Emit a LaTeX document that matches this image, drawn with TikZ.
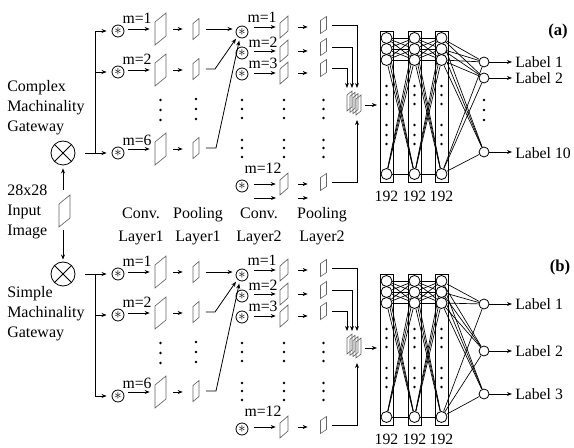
\documentclass[tikz,border=0pt]{standalone}
\usepackage{fontspec}
\setmainfont{Liberation Serif}
\usetikzlibrary{arrows.meta,calc}
\pgfdeclarelayer{back}
\pgfdeclarelayer{bg}
\pgfsetlayers{back,bg,main}

\tikzset{
  conn/.style={line width=0.6pt},
  arr/.style={line width=0.6pt, -{Stealth[length=3.8pt,width=3pt]}},
  fmapline/.style={draw=black!60, line width=0.5pt},
  starnode/.style={circle, draw, line width=0.6pt, minimum size=9pt, inner sep=0pt, font=\fontsize{11}{11}\selectfont},
  otimesnode/.style={circle, draw, line width=0.6pt, minimum size=18pt, inner sep=0pt,
    path picture={\draw[line width=0.6pt] (path picture bounding box.north west) -- (path picture bounding box.south east)
                 (path picture bounding box.north east) -- (path picture bounding box.south west);}},
  neuron/.style={circle, draw, line width=0.6pt, minimum size=8.25pt, inner sep=0pt, fill=white},
  outneuron/.style={circle, draw, line width=0.6pt, minimum size=7.5pt, inner sep=0pt, fill=white},
  fcbox/.style={draw, line width=0.6pt, minimum width=9.75pt, minimum height=113.25pt, inner sep=0pt},
  fcl/.style={line width=0.5pt},
  lbl/.style={font=\fontsize{11.8}{13}\selectfont, inner sep=0pt},
  bigtxt/.style={font=\fontsize{12}{15}\selectfont, inner sep=0pt, align=left},
  laytxt/.style={font=\fontsize{12}{17.25}\selectfont, inner sep=0pt, align=center},
}

\newcommand\featmap[6]{%
  \node[inner sep=0pt, minimum width={#4*0.75pt}, minimum height={#5*0.75pt}] (#1) at (#2,#3) {};
  \draw[fmapline] ({#2-#4/2},{#3+#5/2}) -- ({#2-#4/2},{#3-#5/2+#6}) -- ({#2+#4/2},{#3-#5/2}) -- ({#2+#4/2},{#3+#5/2-#6}) -- cycle;}

\newcommand\panelcommon[2]{%
\begin{scope}[shift={(0,#2)}]
  % conv layer 1
  \node[starnode] (s1#1) at (118,31) {$\ast$};
  \node[starnode] (s2#1) at (118,72) {$\ast$};
  \node[starnode] (s6#1) at (118,153) {$\ast$};
  \node[lbl] (ma1#1) at (137,18) {m=1};
  \node[lbl] (ma2#1) at (137,59) {m=2};
  \node[lbl] (ma6#1) at (137,140) {m=6};
  \featmap{c1#1}{160.5}{29}{11}{32}{9}
  \featmap{c2#1}{160.5}{70}{11}{32}{9}
  \featmap{c6#1}{160.5}{149}{11}{32}{9}
  \foreach \k in {1,2,6} {
    \draw[arr, shorten <=3pt, shorten >=3.75pt] (s\k#1.east |- c\k#1) -- (c\k#1.west);
  }
  % pooling layer 1
  \featmap{p1#1}{196}{29}{6}{21}{5}
  \featmap{p2#1}{196}{69}{6}{21}{5}
  \featmap{p6#1}{196}{148}{6}{21}{5}
  \foreach \k in {1,2,6} {
    \draw[arr, shorten <=5.25pt, shorten >=7.5pt] (c\k#1.east) -- (p\k#1.west |- c\k#1.east);
  }
  \foreach \yy in {100,110,120} { \fill (160.5,\yy) circle[radius=1.3]; }
  \foreach \yy in {99,109,119} { \fill (196,\yy) circle[radius=1.3]; }
  % conv layer 2
  \node[starnode] (t1#1) at (242,32) {$\ast$};
  \node[starnode] (t2#1) at (242,53) {$\ast$};
  \node[starnode] (t3#1) at (242,74) {$\ast$};
  \node[starnode] (t12#1) at (242,186) {$\ast$};
  \node[lbl] (mb1#1) at (262,17) {m=1};
  \node[lbl] (mb2#1) at (263,42) {m=2};
  \node[lbl] (mb3#1) at (263,63) {m=3};
  \node[lbl] (mb12#1) at (263,168) {m=12};
  \draw[arr, shorten <=5pt, shorten >=2.25pt] (p1#1.east) -- (t1#1.west |- p1#1.east);
  \coordinate (k2#1) at (215,69);
  \coordinate (k6#1) at (216,148);
  \draw[arr, shorten <=5pt, shorten >=2pt] (p2#1.east) -- (k2#1) -- (t1#1.225);
  \draw[arr, shorten <=5pt, shorten >=2pt] (p6#1.east) -- (k6#1) -- (t1#1.250);
  \featmap{d1#1}{284}{27}{8}{22}{7}
  \featmap{d2#1}{284}{51}{8}{22}{7}
  \featmap{d3#1}{284}{73}{8}{22}{7}
  \featmap{d12#1}{284}{184}{8}{22}{7}
  \foreach \k in {1,2,3,12} {
    \draw[arr, shorten <=4.5pt, shorten >=3pt] (t\k#1.east |- d\k#1) -- (d\k#1.west);
  }
  % pooling layer 2
  \featmap{q1#1}{323.5}{25}{6}{17}{4}
  \featmap{q2#1}{323.5}{47}{6}{17}{4}
  \featmap{q3#1}{323.5}{68}{6}{17}{4}
  \featmap{q12#1}{323.5}{182}{6}{17}{4}
  \foreach \k in {1,2,3,12} {
    \draw[arr, shorten <=7.5pt, shorten >=9.4pt] (d\k#1.east) -- (q\k#1.west |- d\k#1.east);
  }
  \foreach \xx in {242,284,323.5} {
    \foreach \yy in {100,109,118,140,148,157} { \fill (\xx,\yy) circle[radius=1.3]; }
  }
  % stack of maps
  \featmap{z1#1}{349.5}{101}{5}{20}{4}
  \featmap{z2#1}{352.5}{102.3}{5}{20}{4}
  \featmap{z3#1}{355.5}{103.6}{5}{20}{4}
  \featmap{z4#1}{358.5}{105}{5}{20}{4}
  \coordinate (e1#1) at (357,88);
  \coordinate (e2#1) at (352,88);
  \coordinate (e3#1) at (347,88);
  \coordinate (e12#1) at (357,120);
  \draw[arr, shorten <=4pt] (q1#1.east) -| (e1#1);
  \draw[arr, shorten <=4pt] (q2#1.east) -| (e2#1);
  \draw[arr, shorten <=4pt] (q3#1.east) -| (e3#1);
  \draw[arr, shorten <=4pt] (q12#1.east) -| (e12#1);
  % fully connected
  \foreach \l/\xx in {1/386.5,2/414.5,3/441.5} {
    \node[fcbox] (R\l#1) at (\xx,106.5) {};
    \foreach \k/\yy in {1/38,2/49,3/60,4/174} { \node[neuron] (n#1\l\k) at (\xx,\yy) {}; }
    \foreach \yy in {86,95,104,125,135,144} { \fill (\xx,\yy) circle[radius=1.3]; }
    \node[lbl] (num\l#1) at (\xx,196) {192};
  }
  \draw[arr, shorten <=3pt, shorten >=2pt] (z4#1.east) -- (R1#1.west |- z4#1.east);
  \begin{pgfonlayer}{bg}
    \foreach \i in {1,2,3,4} { \foreach \j in {1,2,3,4} {
      \draw[fcl] (n#11\i) -- (n#12\j);
      \draw[fcl] (n#12\i) -- (n#13\j);
    } }
  \end{pgfonlayer}
\end{scope}}

\begin{document}
\begin{tikzpicture}[x=0.75pt,y=-0.75pt]
\begin{pgfonlayer}{back}
  \fill[white] (0,0) rectangle (574,448);
\end{pgfonlayer}
\useasboundingbox (0,0) rectangle (574,448);

% ---------- input and gateways ----------
\node[otimesnode] (gA) at (63,153) {};
\node[otimesnode] (gB) at (63,274) {};
\featmap{inp}{64.5}{211}{11}{32}{9}
\draw[arr, shorten <=3.75pt, shorten >=2.25pt] (gA.south |- inp.north) -- (gA.south);
\draw[arr, shorten <=2.25pt, shorten >=1.5pt] (gB.north |- inp.south) -- (gB.north);
\node[bigtxt, anchor=west] (txtA) at (7,108) {Complex\\Machinality\\Gateway};
\node[bigtxt, anchor=west] (txtB) at (7,314) {Simple\\Machinality\\Gateway};
\node[bigtxt, anchor=west] (txtI) at (7,212) {28x28\\Input\\Image};

% layer names
\node[laytxt] (ln1) at (141,226) {Conv.\\Layer1};
\node[laytxt] (ln2) at (198,226) {Pooling\\Layer1};
\node[laytxt] (ln3) at (259,226) {Conv.\\Layer2};
\node[laytxt] (ln4) at (322,226) {Pooling\\Layer2};

\panelcommon{a}{0}
\panelcommon{b}{243}

% ---------- panel (a) specific ----------
\coordinate (jA) at (95,153);
\coordinate (jA1) at (95,31);
\draw[arr, shorten <=7.5pt, shorten >=3.75pt] (gA) -- (s6a);
\draw[conn] (jA) -- (jA1);
\draw[arr, shorten >=3.75pt] (jA1) -- (s1a);
\draw[arr, shorten >=3.75pt] (jA1 |- s2a) -- (s2a);
\coordinate (xa1) at (254,198);
\coordinate (xa2) at (276,198);
\coordinate (xa3) at (298,198);
\coordinate (xa4) at (308,198);
\draw[arr] (xa1) -- (xa2);
\draw[arr] (xa3) -- (xa4);

\node[outneuron] (o1a) at (484,62) {};
\node[outneuron] (o2a) at (484,78) {};
\node[outneuron] (o3a) at (484,152) {};
\foreach \yy in {100,110,120} { \fill (484,\yy) circle[radius=1.3]; }
\begin{pgfonlayer}{bg}
  \foreach \i in {1,2,3,4} { \foreach \j in {1,2,3} { \draw[fcl] (na3\i) -- (o\j a); } }
\end{pgfonlayer}
\node[lbl, anchor=west] (la1) at (515,62) {Label 1};
\node[lbl, anchor=west] (la2) at (515,78) {Label 2};
\node[lbl, anchor=west] (la3) at (515,153) {Label 10};
\draw[arr, shorten >=2.25pt] (o1a) -- (la1);
\draw[arr, shorten >=2.25pt] (o2a) -- (la2);
\draw[arr, shorten >=2.25pt] (o3a) -- (la3.west |- o3a);
\node[font=\fontsize{12.5}{14}\selectfont\bfseries, inner sep=0pt] (tagA) at (558,31) {(a)};

% ---------- panel (b) specific ----------
\coordinate (jB1) at (95,274);
\coordinate (jB6) at (95,396);
\draw[arr, shorten <=7.5pt, shorten >=3.75pt] (gB) -- (s1b);
\draw[conn] (jB1) -- (jB6);
\draw[arr, shorten >=3.75pt] (jB1 |- s2b) -- (s2b);
\draw[arr, shorten >=3.75pt] (jB6) -- (s6b);

\node[outneuron] (o1b) at (484,304) {};
\node[outneuron] (o2b) at (484,351) {};
\node[outneuron] (o3b) at (484,394) {};
\begin{pgfonlayer}{bg}
  \foreach \i in {1,2,3,4} { \foreach \j in {1,2,3} { \draw[fcl] (nb3\i) -- (o\j b); } }
\end{pgfonlayer}
\node[lbl, anchor=west] (lb1) at (515,304) {Label 1};
\node[lbl, anchor=west] (lb2) at (515,351) {Label 2};
\node[lbl, anchor=west] (lb3) at (515,394) {Label 3};
\draw[arr, shorten >=2.25pt] (o1b) -- (lb1);
\draw[arr, shorten >=2.25pt] (o2b) -- (lb2);
\draw[arr, shorten >=2.25pt] (o3b) -- (lb3);
\node[font=\fontsize{12.5}{14}\selectfont\bfseries, inner sep=0pt] (tagB) at (560,267) {(b)};
\end{tikzpicture}
\end{document}
